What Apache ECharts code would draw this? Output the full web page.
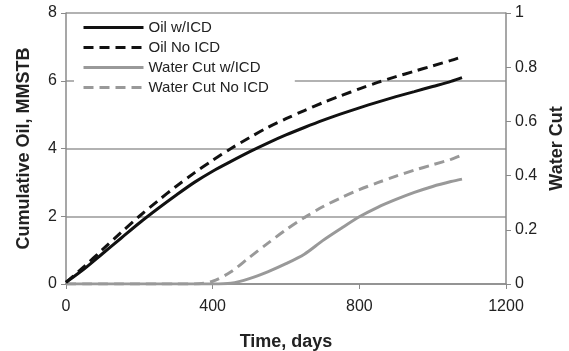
<!DOCTYPE html>
<html><head><meta charset="utf-8">
<script src="https://cdn.jsdelivr.net/npm/echarts@6/dist/echarts.min.js"></script>
<style>html,body{margin:0;padding:0;background:#fff}#c{width:569px;height:351px}</style>
</head><body><div id="c"></div>
<script>
var days = [0,50,100,150,200,250,300,350,400,450,500,550,600,650,700,750,800,850,900,950,1000,1050,1080];
var oilWithICD = [0.05,0.45,0.9,1.35,1.8,2.22,2.62,3.0,3.33,3.62,3.9,4.16,4.4,4.62,4.83,5.02,5.2,5.37,5.53,5.68,5.83,5.98,6.09];
var oilNoICD = [0.05,0.52,1.02,1.52,2.0,2.45,2.88,3.28,3.65,4.0,4.32,4.62,4.88,5.12,5.35,5.56,5.76,5.95,6.12,6.28,6.44,6.6,6.71];
var wcWithICD = [0,0,0,0,0,0,0,0,0,0.003,0.02,0.045,0.075,0.11,0.16,0.205,0.248,0.283,0.312,0.338,0.36,0.378,0.387];
var wcNoICD = [0,0,0,0,0,0,0,0,0.01,0.045,0.098,0.15,0.2,0.245,0.285,0.318,0.348,0.374,0.398,0.42,0.44,0.46,0.476];
var seriesNames = ['Oil w/ICD','Oil No ICD','Water Cut w/ICD','Water Cut No ICD'];
var leftTicks = {min:0,max:8,interval:2};
var rightTicks = {min:0,max:1,interval:0.2};
var xTicks = {min:0,max:1200,interval:400};

function pairs(ys){return days.map(function(d,i){return [d,ys[i]];});}
var font = '"Liberation Sans", Arial, Helvetica, sans-serif';
var axisGray = '#8a8a8a';
var chart = echarts.init(document.getElementById('c'), null, {renderer:'canvas'});
chart.setOption({
  animation:false,
  backgroundColor:'#fff',
  textStyle:{fontFamily:font},
  grid:{left:66,right:63,top:13,bottom:67,containLabel:false,outerBoundsMode:'none'},
  legend:{
    left:74, top:18, orient:'vertical', itemWidth:60, itemHeight:14, itemGap:5,
    backgroundColor:'#fff', padding:[2,26,2,8],
    itemStyle:{opacity:0},
    lineStyle:{width:3},
    textStyle:{fontSize:15,color:'#222',fontFamily:font},
    data:seriesNames
  },
  xAxis:{
    type:'value', min:xTicks.min, max:xTicks.max, interval:xTicks.interval,
    name:'Time, days', nameLocation:'middle', nameGap:49,
    nameTextStyle:{fontSize:18,fontWeight:'bold',color:'#222'},
    axisLine:{lineStyle:{color:axisGray,width:1.5}},
    axisTick:{show:true,length:5,lineStyle:{color:axisGray}},
    axisLabel:{fontSize:16,color:'#222',margin:15,formatter:function(v){return String(v);}},
    splitLine:{show:false}
  },
  yAxis:[{
    type:'value', min:leftTicks.min, max:leftTicks.max, interval:leftTicks.interval,
    name:'Cumulative Oil, MMSTB', nameLocation:'middle', nameGap:33, nameRotate:90,
    nameTextStyle:{fontSize:18,fontWeight:'bold',color:'#222'},
    axisLine:{show:true,lineStyle:{color:axisGray,width:1.5}},
    axisTick:{show:true,length:5,lineStyle:{color:axisGray}},
    axisLabel:{fontSize:16,color:'#222',margin:9},
    splitLine:{show:true,lineStyle:{color:'#999',width:1.5}}
  },{
    type:'value', position:'right', min:rightTicks.min, max:rightTicks.max, interval:rightTicks.interval,
    name:'Water Cut', nameLocation:'middle', nameGap:39, nameRotate:90,
    nameTextStyle:{fontSize:18,fontWeight:'bold',color:'#222'},
    axisLine:{show:true,lineStyle:{color:axisGray,width:1.5}},
    axisTick:{show:true,length:5,lineStyle:{color:axisGray}},
    axisLabel:{fontSize:16,color:'#222',margin:9},
    splitLine:{show:false}
  }],
  series:[
    {name:seriesNames[0],type:'line',yAxisIndex:0,data:pairs(oilWithICD),symbol:'none',smooth:0.3,
     lineStyle:{color:'#111',width:3},itemStyle:{color:'#111'},z:5},
    {name:seriesNames[1],type:'line',yAxisIndex:0,data:pairs(oilNoICD),symbol:'none',smooth:0.3,
     lineStyle:{color:'#111',width:3,type:[10,6]},itemStyle:{color:'#111'},z:5},
    {name:seriesNames[2],type:'line',yAxisIndex:1,data:pairs(wcWithICD),symbol:'none',smooth:0.3,
     lineStyle:{color:'#999',width:3},itemStyle:{color:'#999'},z:4},
    {name:seriesNames[3],type:'line',yAxisIndex:1,data:pairs(wcNoICD),symbol:'none',smooth:0.3,
     lineStyle:{color:'#999',width:3,type:[10,6]},itemStyle:{color:'#999'},z:4}
  ]
});
</script></body></html>
